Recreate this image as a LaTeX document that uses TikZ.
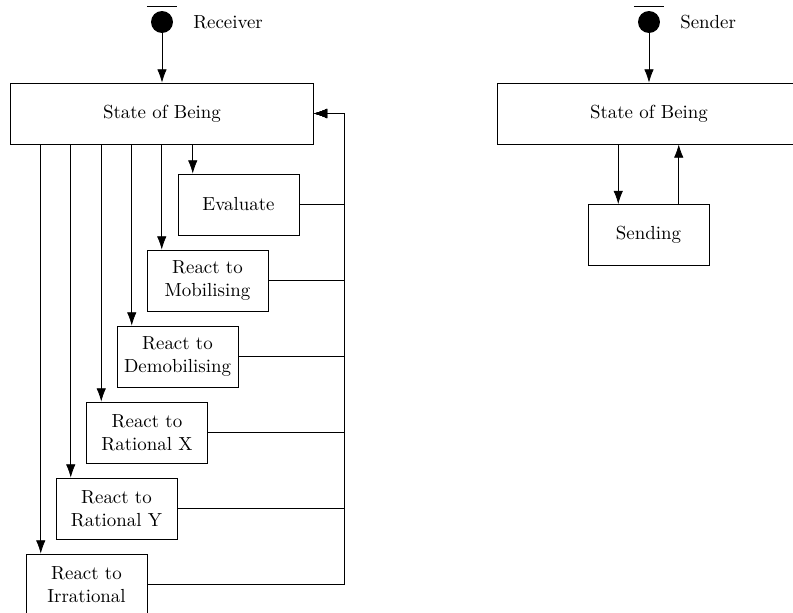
\documentclass[tikz,border=0pt]{standalone}
\usepackage{tikz}
\usetikzlibrary{positioning,arrows.meta}

\tikzset{
  statebox/.style={draw, minimum width=64pt, minimum height=32.3pt, inner sep=2pt, align=center},
  widebox/.style={statebox, minimum width=160.3pt},
  startdot/.style={circle, fill=black, minimum size=11.6pt, inner sep=0pt},
  flow/.style={-{Latex[length=7pt,width=5pt]}},
}

\begin{document}
\begin{tikzpicture}[x=0.529pt, y=-0.529pt]
        \clip (0,0) rectangle (793,613);

        % receiver
        \node [startdot]             (rcv)    at (162,22)      {};
        \node [right=7pt of rcv]     (rcvlbl)                  {Receiver};
        \draw ([xshift=-8pt,yshift=2pt]rcv.north) -- ([xshift=8pt,yshift=2pt]rcv.north);
        \node [widebox]              (rsob)   at (162,113.5)   {State of Being};
        \node [statebox]             (eval)   at (238.5,204.5) {Evaluate};
        \node [statebox]             (mob)    at (207.5,280.5) {React to\\Mobilising};
        \node [statebox]             (demob)  at (177.5,356.5) {React to\\Demobilising};
        \node [statebox]             (ratx)   at (147,432.5)   {React to\\Rational X};
        \node [statebox]             (raty)   at (116.5,508.5) {React to\\Rational Y};
        \node [statebox]             (irrat)  at (86.5,584.5)  {React to\\Irrational};
        \coordinate                  (back)   at (344,113.5);

        \draw [flow] (rcv) -- (rsob);
        \draw [flow] ([xshift=8pt]eval.north west  |- rsob.south) -- ([xshift=8pt]eval.north west);  %
        \draw [flow] ([xshift=8pt]mob.north west   |- rsob.south) -- ([xshift=8pt]mob.north west);   %
        \draw [flow] ([xshift=8pt]demob.north west |- rsob.south) -- ([xshift=8pt]demob.north west); %
        \draw [flow] ([xshift=8pt]ratx.north west  |- rsob.south) -- ([xshift=8pt]ratx.north west);  %
        \draw [flow] ([xshift=8pt]raty.north west  |- rsob.south) -- ([xshift=8pt]raty.north west);  %
        \draw [flow] ([xshift=8pt]irrat.north west |- rsob.south) -- ([xshift=8pt]irrat.north west); %

        \draw [flow] (eval.east)  -| (back) -- (rsob.east); %
        \draw [flow] (mob.east)   -| (back) -- (rsob.east); %
        \draw [flow] (demob.east) -| (back) -- (rsob.east); %
        \draw [flow] (ratx.east)  -| (back) -- (rsob.east); %
        \draw [flow] (raty.east)  -| (back) -- (rsob.east); %
        \draw [flow] (irrat.east) -| (back) -- (rsob.east); %

        % sender
        \node [startdot]             (snd)    at (649,22)      {};
        \node [right=7pt of snd]     (sndlbl)                  {Sender};
        \draw ([xshift=-8pt,yshift=2pt]snd.north) -- ([xshift=8pt,yshift=2pt]snd.north);
        \node [widebox]              (ssob)   at (649,113.5)   {State of Being};
        \node [statebox]             (send)   at (648.5,235)   {Sending};

        \draw [flow] (snd) -- (ssob);
        \draw [flow] ([xshift=-16pt]send.north |- ssob.south) -- ([xshift=-16pt]send.north); %
        \draw [flow] ([xshift=16pt]send.north) -- ([xshift=16pt]send.north |- ssob.south);   %
\end{tikzpicture}
\end{document}
